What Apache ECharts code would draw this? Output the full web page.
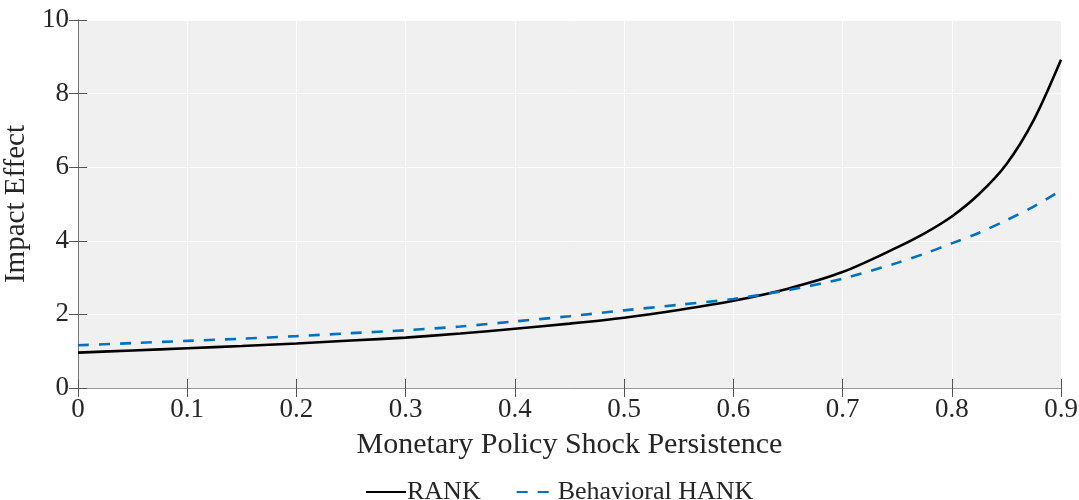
<!DOCTYPE html>
<html>
<head>
<meta charset="utf-8">
<script src="https://cdn.jsdelivr.net/npm/echarts@6/dist/echarts.min.js"></script>
<style>
  html, body { margin: 0; padding: 0; background: #ffffff; }
  #chart { width: 1079px; height: 500px; }
</style>
</head>
<body>
<div id="chart"></div>
<script>
// Shock persistence (rho) grid
const persistence = [0, 0.05, 0.1, 0.15, 0.2, 0.25, 0.3, 0.35, 0.4, 0.45, 0.5, 0.55,
  0.6, 0.65, 0.7, 0.75, 0.775, 0.8, 0.825, 0.85, 0.875, 0.9];
// Impact effect, representative-agent model
const rankImpact = [0.96, 1.02, 1.08, 1.14, 1.21, 1.29, 1.37, 1.48, 1.61, 1.75, 1.91, 2.12,
  2.37, 2.70, 3.15, 3.82, 4.20, 4.66, 5.27, 6.08, 7.28, 8.92];
// Impact effect, behavioral heterogeneous-agent model
const hankImpact = [1.16, 1.22, 1.28, 1.34, 1.41, 1.49, 1.57, 1.67, 1.81, 1.95, 2.11, 2.26,
  2.42, 2.66, 2.97, 3.40, 3.65, 3.93, 4.22, 4.56, 4.93, 5.37];

const xTickLabels = ['0', '0.1', '0.2', '0.3', '0.4', '0.5', '0.6', '0.7', '0.8', '0.9'];
const yTickLabels = ['0', '2', '4', '6', '8', '10'];

const seriesNames = ['RANK', 'Behavioral HANK'];

const serif = '"Liberation Serif", "DejaVu Serif", serif';
const textColor = '#262626';

const pairs = (xs, ys) => xs.map((x, i) => [x, ys[i]]);

const chart = echarts.init(document.getElementById('chart'), null, { renderer: 'canvas' });

chart.setOption({
  animation: false,
  backgroundColor: '#ffffff',
  grid: {
    left: 78, top: 20, right: 18, bottom: 112,
    containLabel: false, outerBoundsMode: 'none',
    show: true, backgroundColor: '#f0f0f0', borderWidth: 0
  },
  legend: {
    left: 360, top: 474,
    itemWidth: 40, itemHeight: 14, itemGap: 35,
    itemStyle: { opacity: 0 },
    textStyle: { fontFamily: serif, fontSize: 26, color: textColor, padding: [0, 0, 0, -4] },
    data: seriesNames
  },
  xAxis: [
    {
      type: 'value', min: 0, max: 0.9, interval: 0.1, position: 'bottom',
      name: 'Monetary Policy Shock Persistence', nameLocation: 'middle', nameGap: 42,
      nameTextStyle: { fontFamily: serif, fontSize: 30, color: textColor },
      axisLine: { show: true, lineStyle: { color: '#d9d9d9', width: 1 } },
      axisTick: { show: true, inside: true, length: 9, lineStyle: { color: '#555555' } },
      axisLabel: {
        margin: 8, fontFamily: serif, fontSize: 27, color: textColor,
        formatter: v => xTickLabels[Math.round(v * 10)]
      },
      splitLine: { show: true, lineStyle: { color: '#ffffff', width: 1 } }
    },
    {
      type: 'value', min: 0, max: 0.9, interval: 0.1, position: 'top',
      axisLine: { show: true, lineStyle: { color: '#999999', width: 1 } },
      axisTick: { show: true, inside: true, length: 9, lineStyle: { color: '#555555' } },
      axisLabel: { show: false }, splitLine: { show: false }
    }
  ],
  yAxis: [
    {
      type: 'value', min: 0, max: 10, interval: 2, position: 'left',
      name: 'Impact Effect', nameLocation: 'middle', nameGap: 40, nameRotate: 90,
      nameTextStyle: { fontFamily: serif, fontSize: 29, color: textColor },
      axisLine: { show: true, lineStyle: { color: '#888888', width: 1 } },
      axisTick: { show: true, inside: true, length: 9, lineStyle: { color: '#555555' } },
      axisLabel: {
        margin: 9, fontFamily: serif, fontSize: 27, color: textColor,
        formatter: v => yTickLabels[Math.round(v / 2)]
      },
      splitLine: { show: true, lineStyle: { color: '#ffffff', width: 1 } }
    },
    {
      type: 'value', min: 0, max: 10, interval: 2, position: 'right',
      axisLine: { show: true, lineStyle: { color: '#777777', width: 1 } },
      axisTick: { show: true, inside: true, length: 9, lineStyle: { color: '#555555' } },
      axisLabel: { show: false }, splitLine: { show: false }
    }
  ],
  series: [
    {
      name: seriesNames[0], type: 'line', xAxisIndex: 0, yAxisIndex: 0,
      data: pairs(persistence, rankImpact),
      smooth: 0.3, showSymbol: false, symbol: 'none',
      itemStyle: { color: '#000000' },
      lineStyle: { color: '#000000', width: 2.6 },
      z: 3
    },
    {
      name: seriesNames[1], type: 'line', xAxisIndex: 0, yAxisIndex: 0,
      data: pairs(persistence, hankImpact),
      smooth: 0.3, showSymbol: false, symbol: 'none',
      itemStyle: { color: '#0072BD' },
      lineStyle: { color: '#0072BD', width: 2.6, type: [11, 10] },
      z: 4
    }
  ]
});
</script>
</body>
</html>
